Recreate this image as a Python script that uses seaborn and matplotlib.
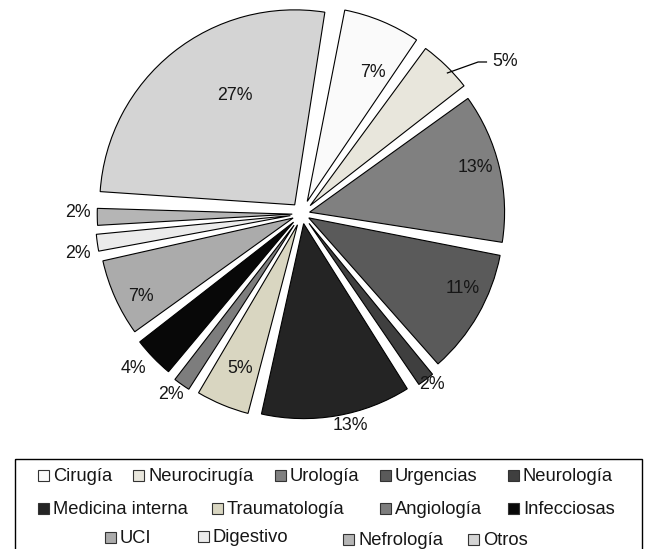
import numpy as np
import matplotlib
matplotlib.use("Agg")
import matplotlib.pyplot as plt
from matplotlib.patches import Rectangle
import seaborn as sns

# Distribución de pacientes por servicio
servicios = ["Cirugía", "Neurocirugía", "Urología", "Urgencias", "Neurología",
             "Medicina interna", "Traumatología", "Angiología", "Infecciosas",
             "UCI", "Digestivo", "Nefrología", "Otros"]
porcentajes = [7, 5, 13, 11, 2, 13, 5, 2, 4, 7, 2, 2, 27]
colores = ["#fafafa", "#e8e6dc", "#808080", "#5a5a5a", "#3f3f3f", "#242424",
           "#d9d6c1", "#7d7d7d", "#080808", "#ababab", "#ebebeb", "#b5b5b5",
           "#d4d4d4"]

sns.set_theme(style="white")
plt.rcParams["font.family"] = ["Liberation Sans", "DejaVu Sans"]

W, H = 645, 549
CX, CY, R = 302, 214, 195          # pie centre and radius (px)
GAP = 1.1                           # degrees trimmed off each side of a wedge
FS = 12.8
FS_LEG = 13.2
TXT = "#161616"

# how far each slice is pulled out from the centre
separacion = [0.07, 0.06, 0.04, 0.04, 0.06, 0.05, 0.06, 0.07, 0.06,
              0.05, 0.06, 0.05, 0.06]

fig = plt.figure(figsize=(W / 100, H / 100), dpi=100)
fig.patch.set_facecolor("white")
ax = fig.add_axes([0, 0, 1, 1])

wedges, _ = ax.pie(porcentajes, colors=colores, startangle=80,
                   counterclock=False, radius=1, explode=separacion,
                   wedgeprops=dict(edgecolor="black", linewidth=0.8))
ax.set_xlim(-CX / R, (W - CX) / R)
ax.set_ylim(-(H - CY) / R, CY / R)
ax.set_aspect("auto")
ax.axis("off")

for w in wedges:
    t1, t2 = w.theta1, w.theta2
    w.set_theta1(t1 + GAP)
    w.set_theta2(t2 - GAP)

# label placement: radial distance and angular nudge per wedge
lbl_r = [0.81, None, 0.918, 0.906, 1.096, 1.11, 0.856, 1.147, 1.174,
         0.927, 1.166, 1.149, 0.70]
lbl_da = [-4.1, 0, 1.5, 5.0, 0.5, 3.0, 0.8, -0.8, -1.4, 2.8, 1.9, -1.1, -9.2]

for w, pct, r, da in zip(wedges, porcentajes, lbl_r, lbl_da):
    mid = np.deg2rad((w.theta1 + w.theta2) / 2 + da)
    label = f"{pct}%"
    if r is None:
        # leader line for the narrow slice near the top right
        m = (w.theta1 + w.theta2) / 2
        p0 = 1.036 * np.array([np.cos(np.deg2rad(m - 1.6)), np.sin(np.deg2rad(m - 1.6))])
        p1 = 1.193 * np.array([np.cos(np.deg2rad(m - 5.0)), np.sin(np.deg2rad(m - 5.0))])
        p2 = p1 + np.array([0.046, 0.0])
        ax.plot([p0[0], p1[0], p2[0]], [p0[1], p1[1], p2[1]],
                color="black", lw=0.9, solid_capstyle="butt")
        ax.text(p2[0] + 0.026, p2[1], label, ha="left", va="center",
                fontsize=FS, color=TXT)
    else:
        ax.text(r * np.cos(mid), r * np.sin(mid), label, ha="center",
                va="center", fontsize=FS, color=TXT)

# legend drawn in pixel coordinates
lax = fig.add_axes([0, 0, 1, 1])
lax.set_xlim(0, W)
lax.set_ylim(H, 0)
lax.axis("off")
lax.add_patch(Rectangle((15, 459), 627, 120, facecolor="none",
                        edgecolor="black", lw=1.0))

leg_x = [38, 133, 275, 380, 508,
         38, 212, 380, 508,
         105, 198, 343, 468]
leg_base = [481, 481, 481, 481, 481,
            514, 514, 514, 514,
            543, 542, 545, 545]

for name, col, x, yb in zip(servicios, colores, leg_x, leg_base):
    lax.add_patch(Rectangle((x, yb - 11), 11, 11, facecolor=col,
                            edgecolor="#333333", lw=0.8))
    lax.text(x + 15, yb, name, ha="left", va="baseline", fontsize=FS_LEG,
             color=TXT)

fig.savefig("out.png", dpi=100, facecolor="white")
